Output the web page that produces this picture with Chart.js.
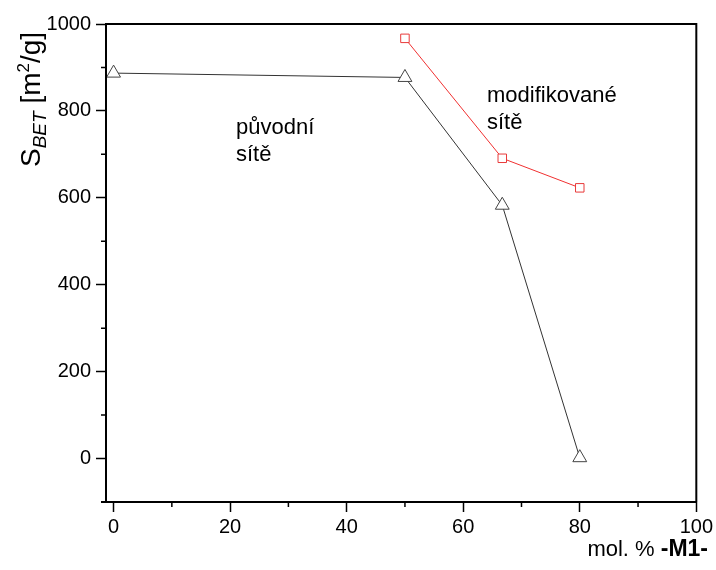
<!DOCTYPE html>
<html><head><meta charset="utf-8">
<script src="https://cdn.jsdelivr.net/npm/chart.js@4.4.1/dist/chart.umd.min.js"></script>
<style>html,body{margin:0;padding:0;background:#fff}#wrap{width:716px;height:570px}</style>
</head><body><div id="wrap"><canvas id="c" width="716" height="570"></canvas></div>
<script>
const xOriginal = [0, 50, 66.7, 80];
const sOriginal = [887, 877, 583, 2];
const xModified = [50, 66.7, 80];
const sModified = [967, 691, 623];
const xMajorTicks = [0, 20, 40, 60, 80, 100];
const xMinorTicks = [10, 30, 50, 70, 90];
const yMajorTicks = [0, 200, 400, 600, 800, 1000];
const yMinorTicks = [100, 300, 500, 700, 900];
const labelOriginal = ['původní', 'sítě'];
const labelModified = ['modifikované', 'sítě'];

const FONT = "'Liberation Sans', Arial, sans-serif";

const deco = {
  id: 'deco',
  afterDraw(chart) {
    const ctx = chart.ctx, a = chart.chartArea;
    const xs = chart.scales.x, ys = chart.scales.y;
    ctx.save();
    // frame
    ctx.strokeStyle = '#000';
    ctx.lineWidth = 2;
    ctx.beginPath();
    ctx.moveTo(a.left - 5, a.bottom); ctx.lineTo(a.right, a.bottom);
    ctx.moveTo(a.left, a.bottom); ctx.lineTo(a.left, a.top);
    ctx.lineTo(a.right, a.top); ctx.lineTo(a.right, a.bottom);
    ctx.stroke();
    // minor ticks
    ctx.lineWidth = 1.5;
    ctx.beginPath();
    xMinorTicks.forEach(v => { const p = xs.getPixelForValue(v); ctx.moveTo(p, a.bottom); ctx.lineTo(p, a.bottom + 5); });
    yMinorTicks.forEach(v => { const p = ys.getPixelForValue(v); ctx.moveTo(a.left, p); ctx.lineTo(a.left - 5, p); });
    ctx.stroke();
    // annotations
    ctx.fillStyle = '#000';
    ctx.font = '22px ' + FONT;
    ctx.textAlign = 'left';
    ctx.textBaseline = 'alphabetic';
    ctx.fillText(labelOriginal[0], 236, 134);
    ctx.fillText(labelOriginal[1], 236, 161);
    ctx.fillText(labelModified[0], 487, 102);
    ctx.fillText(labelModified[1], 487, 129);
    // x title
    ctx.textAlign = 'left';
    ctx.font = 'bold 23px ' + FONT;
    const wb = ctx.measureText('-M1-').width;
    ctx.font = '22px ' + FONT;
    const wr = ctx.measureText('mol. % ').width;
    const xr = 708;
    ctx.fillText('mol. % ', xr - wb - wr, 556);
    ctx.font = 'bold 23px ' + FONT;
    ctx.fillText('-M1-', xr - wb, 556);
    // y title
    ctx.translate(40, 167);
    ctx.rotate(-Math.PI / 2);
    let x = 0;
    ctx.font = '28px ' + FONT;
    ctx.fillText('S', x, 0); x += ctx.measureText('S').width;
    ctx.font = 'italic 19px ' + FONT;
    ctx.fillText('BET', x, 6); x += ctx.measureText('BET').width;
    ctx.font = '28px ' + FONT;
    ctx.fillText(' [m', x, 0); x += ctx.measureText(' [m').width;
    ctx.font = '17px ' + FONT;
    ctx.fillText('2', x, -11); x += ctx.measureText('2').width;
    ctx.font = '28px ' + FONT;
    ctx.fillText('/g]', x, 0);
    ctx.restore();
  }
};

new Chart(document.getElementById('c'), {
  type: 'scatter',
  data: {
    datasets: [
      {
        label: 'původní sítě',
        data: xOriginal.map((v, i) => ({ x: v, y: sOriginal[i] })),
        showLine: true,
        borderColor: '#333',
        borderWidth: 1,
        pointStyle: 'triangle',
        pointRadius: 8,
        pointBorderColor: '#444',
        pointBackgroundColor: '#fff',
        pointBorderWidth: 1
      },
      {
        label: 'modifikované sítě',
        data: xModified.map((v, i) => ({ x: v, y: sModified[i] })),
        showLine: true,
        borderColor: '#f03030',
        borderWidth: 1,
        pointStyle: 'rect',
        pointRadius: 6,
        pointBorderColor: '#e83a3a',
        pointBackgroundColor: '#fff',
        pointBorderWidth: 1
      }
    ]
  },
  options: {
    responsive: false,
    animation: false,
    devicePixelRatio: 1,
    layout: { padding: { left: 0, top: 24, right: 19, bottom: 0 } },
    plugins: { legend: { display: false }, tooltip: { enabled: false } },
    scales: {
      x: {
        type: 'linear', min: -1.3, max: 100,
        afterBuildTicks: s => { s.ticks = xMajorTicks.map(v => ({ value: v })); },
        afterFit: s => { s.height = 68; },
        ticks: { color: '#000', font: { family: FONT, size: 20 }, padding: 3, maxRotation: 0, autoSkip: false, callback: v => String(v) },
        grid: { display: true, drawOnChartArea: false, drawTicks: true, tickLength: 10, tickColor: '#000', tickWidth: 1.5 },
        border: { display: false }
      },
      y: {
        type: 'linear', min: -100, max: 1000,
        afterBuildTicks: s => { s.ticks = yMajorTicks.map(v => ({ value: v })); },
        afterFit: s => { s.width = 106; },
        ticks: { color: '#000', font: { family: FONT, size: 20 }, padding: 5, autoSkip: false, callback: v => String(v) },
        grid: { display: true, drawOnChartArea: false, drawTicks: true, tickLength: 10, tickColor: '#000', tickWidth: 1.5 },
        border: { display: false }
      }
    }
  },
  plugins: [deco]
});
</script></body></html>
